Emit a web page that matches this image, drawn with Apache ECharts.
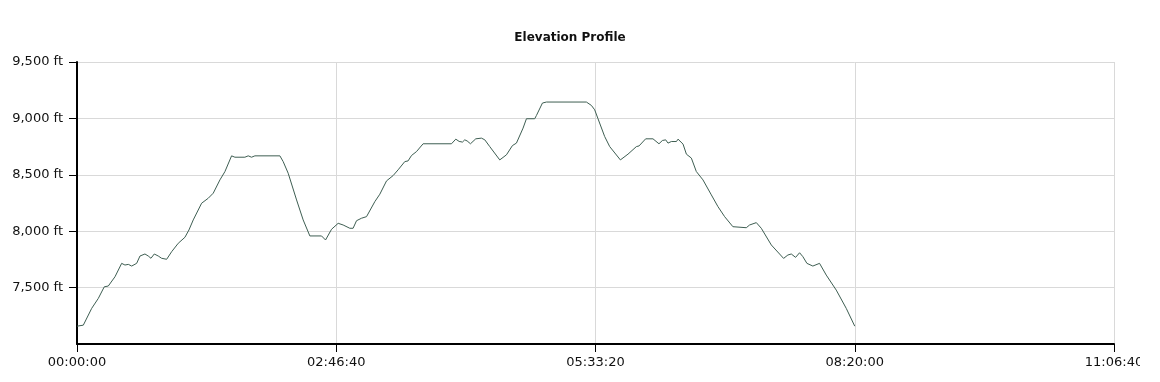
<!DOCTYPE html>
<html>
<head>
<meta charset="utf-8">
<script src="https://cdn.jsdelivr.net/npm/echarts@6/dist/echarts.min.js"></script>
<style>
html,body{margin:0;padding:0;background:#fff;overflow:hidden;}
#c{width:1140px;height:382px;}
</style>
</head>
<body>
<div id="c"></div>
<script>
// elapsed time in seconds
const times = [0,50,243,567,821,1052,1207,1465,1723,1850,1980,2109,2301,2429,2621,2749,2853,2981,3135,3264,3458,3650,3905,4163,4318,4484,4807,5062,5255,5513,5705,5963,6091,6476,6604,6733,6862,7826,7953,8146,8470,8724,8982,9433,9587,9818,10074,10266,10524,10650,10782,10975,11168,11488,11681,11939,12193,12386,12644,12770,12903,13096,13350,14445,14611,14740,14868,14957,15050,15177,15382,15601,15730,15921,16307,16565,16796,16950,17206,17336,17656,17722,17953,18107,19649,19842,19969,20097,20354,20548,20960,21253,21577,21680,21935,22217,22448,22580,22707,22796,22925,23122,23184,23377,23506,23698,23889,24145,24468,24723,24981,25300,25817,25944,26203,26395,26781,27255,27421,27552,27718,27872,28000,28155,28384,28642,28710,28901,29286,29672,30000];
// elevation in feet
const elevations = [7158,7152,7167,7316,7404,7507,7514,7596,7715,7700,7706,7691,7715,7780,7798,7780,7760,7798,7780,7760,7751,7818,7893,7946,8011,8100,8248,8292,8337,8455,8528,8668,8656,8656,8668,8656,8668,8668,8617,8514,8277,8100,7958,7958,7922,8017,8070,8055,8026,8026,8093,8115,8129,8262,8328,8446,8493,8544,8617,8623,8671,8706,8775,8775,8816,8796,8790,8810,8800,8775,8819,8825,8810,8750,8632,8677,8759,8781,8914,8997,8997,9026,9136,9145,9145,9115,9076,8997,8839,8750,8632,8683,8750,8756,8819,8819,8775,8804,8810,8781,8795,8795,8816,8772,8683,8648,8529,8455,8322,8218,8129,8040,8031,8055,8076,8026,7878,7759,7789,7798,7768,7809,7774,7715,7691,7715,7700,7611,7478,7316,7158];
const titleText = 'Elevation Profile';

const data = times.map((t, i) => [t, elevations[i]]);
function hms(s) {
  const h = Math.floor(s / 3600), m = Math.floor((s % 3600) / 60), sec = Math.round(s % 60);
  const p = n => String(n).padStart(2, '0');
  return p(h) + ':' + p(m) + ':' + p(sec);
}
const font = 'DejaVu Sans';
const chart = echarts.init(document.getElementById('c'), null, {renderer: 'canvas'});
chart.setOption({
  animation: false,
  backgroundColor: '#fff',
  title: {
    text: titleText, left: 'center', top: 27,
    textStyle: {fontFamily: font, fontSize: 12, fontWeight: 'bold', color: '#111'}
  },
  grid: {left: 77, right: 26, top: 62, bottom: 38, outerBoundsMode: 'none', containLabel: false},
  xAxis: {
    type: 'value', min: 0, max: 40000, interval: 10000,
    axisLine: {show: true, onZero: false, lineStyle: {color: '#000', width: 2}},
    axisTick: {show: true, length: 8, lineStyle: {color: '#000', width: 1}},
    axisLabel: {fontFamily: font, fontSize: 13, color: '#111', margin: 12, formatter: v => hms(v), showMaxLabel: true, hideOverlap: false},
    splitLine: {show: true, lineStyle: {color: '#d9d9d9', width: 1}}
  },
  yAxis: {
    type: 'value', min: 7000, max: 9500, interval: 500,
    axisLine: {show: true, lineStyle: {color: '#000', width: 2}},
    axisTick: {show: true, length: 8, lineStyle: {color: '#000', width: 1}},
    axisLabel: {fontFamily: font, fontSize: 13, color: '#111', margin: 14, showMinLabel: false,
      formatter: v => v.toLocaleString('en-US') + ' ft'},
    splitLine: {show: true, lineStyle: {color: '#d9d9d9', width: 1}}
  },
  series: [{
    type: 'line', data: data, showSymbol: false, symbol: 'none',
    lineStyle: {color: '#3e5e52', width: 1}
  }]
});
</script>
</body>
</html>
